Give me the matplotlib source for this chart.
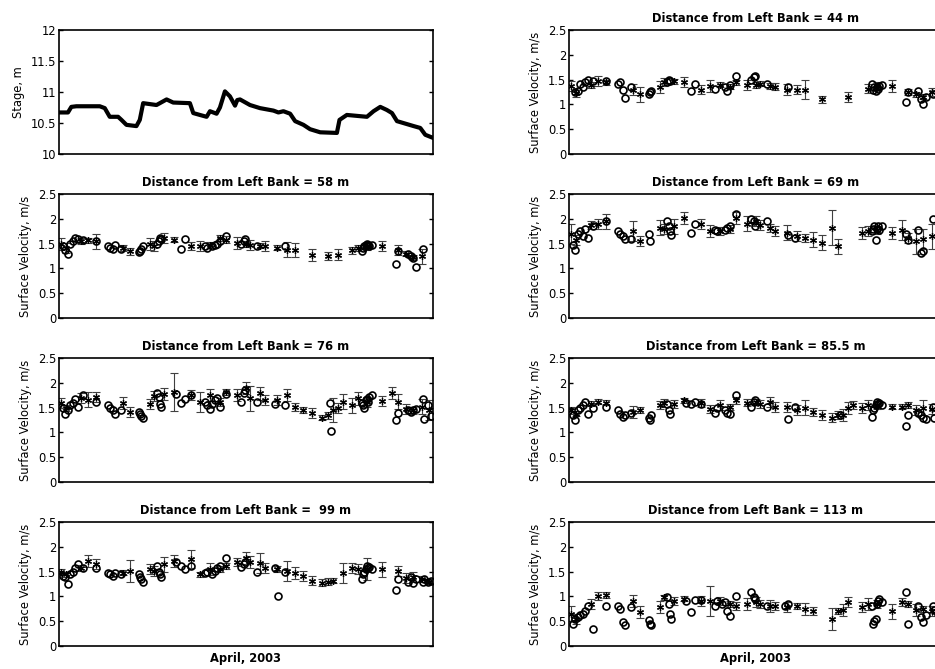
import numpy as np
import matplotlib
matplotlib.use("Agg")
import matplotlib.pyplot as plt
from matplotlib.ticker import FormatStrFormatter

nan = float("nan")

# river stage through April 2003 (day of month, metres)
stage_t = [0, 0.72, 0.99, 1.39, 3.27, 3.67, 4.07, 4.74, 5.01, 5.41,
           6.21, 6.48, 6.75, 7.82, 8.63, 9.16, 10.5, 10.77, 11.3, 11.84,
           12.11, 12.64, 12.91, 13.31, 13.71, 14.12, 14.3, 14.52, 15.32, 16.12,
           17.2, 17.6, 18.0, 18.54, 18.94, 19.61, 20.14, 20.95, 22.29, 22.5,
           23.09, 24.16, 24.7, 25.23, 25.77, 26.3, 26.71, 27.11, 27.78, 28.45,
           28.98, 29.38, 30]
stage_h = [10.67, 10.67, 10.76, 10.77, 10.77, 10.74, 10.60, 10.60, 10.55, 10.47,
           10.45, 10.55, 10.82, 10.79, 10.88, 10.83, 10.82, 10.66, 10.63, 10.60,
           10.69, 10.65, 10.75, 11.01, 10.93, 10.78, 10.87, 10.88, 10.79, 10.74,
           10.70, 10.67, 10.69, 10.65, 10.53, 10.47, 10.40, 10.35, 10.34, 10.55,
           10.63, 10.61, 10.60, 10.69, 10.76, 10.71, 10.66, 10.53, 10.49, 10.45,
           10.42, 10.31, 10.26]

# times of the averaged velocity estimates (plotted as * with error bars)
t_star = [0.2, 0.6, 1.8, 2.3, 3.0, 5.1, 5.7, 7.3, 7.6, 8.4,
          9.2, 10.6, 11.3, 12.1, 12.9, 13.4, 14.3, 15.0, 15.3, 16.1,
          16.5, 17.5, 18.3, 18.9, 19.6, 20.3, 21.1, 21.6, 22.0, 22.4,
          22.8, 23.5, 24.0, 24.7, 25.9, 26.7, 27.2, 27.8, 28.4, 29.1, 29.7]

# times of the individual measurements (open circles)
t_circ = [0.3, 0.5, 0.7, 0.9, 1.1, 1.3, 1.5, 1.9, 3.0, 3.9,
          4.1, 4.3, 4.5, 5.0, 6.4, 6.5, 6.6, 6.7, 7.9, 8.0,
          8.1, 8.2, 9.4, 9.8, 10.1, 10.6, 11.7, 11.9, 12.1, 12.3,
          12.5, 12.7, 12.9, 13.4, 14.6, 14.8, 14.9, 15.9, 17.3, 17.6,
          18.1, 21.7, 21.8, 24.3, 24.4, 24.5, 24.6, 24.7, 24.8, 24.9,
          25.1, 27.0, 27.2, 28.0, 28.2, 28.4, 28.6, 29.2, 29.3, 29.6, 29.8]

# ---- 44 m ----
v44 = [1.38, 1.22, 1.40, 1.48, 1.45, 1.30, 1.20, 1.35, 1.45, 1.47,
       1.45, 1.30, 1.38, 1.40, 1.36, 1.45, 1.40, 1.40, 1.42, 1.38,
       1.36, 1.30, 1.30, 1.30, nan, 1.10, nan, nan, nan, 1.15,
       nan, nan, 1.32, 1.38, 1.38, nan, 1.25, 1.20, 1.15, 1.25, 1.30]
e44 = [.10, .07, .06, .10, .05, .12, .15, .12, .08, .05,
       .10, .10, .12, .05, .05, .05, .10, .06, .05, .06,
       .07, .12, .10, .20, 0, .07, 0, 0, 0, .10,
       0, 0, .10, .08, .12, 0, .06, .06, .05, .08, .10]
c44 = [nan, 1.25, 1.28, 1.42, 1.35, 1.45, 1.50, 1.48, 1.48, 1.42,
       1.45, 1.30, 1.12, 1.35, 1.20, 1.25, 1.28, nan, 1.45, 1.50,
       1.48, nan, nan, 1.27, 1.42, nan, 1.32, nan, nan, nan,
       1.35, 1.28, 1.40, 1.58, 1.50, 1.55, 1.58, 1.42, nan, 1.35,
       nan, nan, nan, 1.42, 1.30, 1.35, 1.28, 1.35, 1.32, 1.38,
       1.40, 1.05, 1.25, 1.28, 1.10, 1.00, 1.15, 1.20, nan, nan, nan]

# ---- 58 m ----
v58 = [1.50, 1.42, 1.55, 1.57, 1.55, 1.42, 1.35, 1.50, 1.45, 1.62,
       1.58, 1.45, 1.45, 1.48, 1.62, 1.58, 1.52, 1.50, 1.48, 1.46,
       1.45, 1.42, 1.38, 1.37, nan, 1.27, nan, 1.25, nan, 1.28,
       nan, 1.37, 1.42, 1.45, 1.45, nan, 1.38, 1.30, 1.22, 1.24, nan]
e58 = [.12, .10, .06, .05, .15, .06, .07, .12, .10, .10,
       .05, .08, .10, .06, .06, .07, .12, .06, .10, .05,
       .10, .05, .15, .15, 0, .12, 0, .08, 0, .12,
       0, .07, .06, .07, .10, 0, .10, .05, .05, .15, 0]
c58 = [1.45, 1.38, 1.30, 1.50, 1.55, 1.62, 1.60, 1.58, 1.55, 1.45,
       1.42, 1.40, 1.48, 1.40, 1.33, 1.35, 1.40, 1.45, 1.50, 1.55,
       1.62, 1.60, nan, 1.40, 1.60, nan, 1.45, 1.42, nan, 1.45,
       1.47, 1.50, 1.55, 1.65, 1.50, 1.55, 1.60, 1.45, nan, nan,
       1.45, nan, nan, 1.35, 1.42, 1.45, 1.48, 1.50, 1.48, 1.45,
       1.47, 1.08, 1.35, 1.30, 1.25, 1.20, 1.03, 1.40, nan, nan, nan]

# ---- 69 m ----
v69 = [1.70, 1.58, 1.88, 1.90, 1.95, 1.75, 1.55, 1.82, 1.80, 1.85,
       2.02, 1.90, 1.75, 1.75, 1.80, 2.02, 1.90, 1.95, 1.88, 1.82,
       1.75, 1.72, 1.65, 1.62, 1.58, 1.52, 1.82, 1.45, nan, nan,
       nan, 1.72, 1.75, 1.78, 1.72, 1.78, 1.62, 1.55, 1.60, 1.65, nan]
e69 = [.20, .10, .08, .10, .15, .20, .10, .15, .10, .15,
       .12, .10, .12, .08, .08, .12, .15, .10, .10, .08,
       .10, .15, .10, .08, .15, .15, .35, .15, 0, 0,
       0, .12, .10, .08, .12, .20, .10, .25, .20, .25, 0]
c69 = [1.48, 1.38, 1.70, 1.75, 1.65, 1.80, 1.62, 1.85, 1.95, 1.75,
       1.70, 1.65, 1.60, 1.60, 1.70, 1.55, nan, nan, 1.95, 1.85,
       1.75, 1.68, nan, 1.72, 1.90, nan, 1.78, 1.75, nan, nan,
       1.78, 1.82, 1.85, 2.10, 2.00, 1.95, 1.85, 1.95, nan, 1.68,
       1.62, nan, nan, 1.75, 1.80, 1.85, 1.58, 1.80, 1.85, 1.78,
       1.85, 1.70, 1.58, 1.78, 1.32, 1.35, nan, 2.00, nan, nan, nan]

# ---- 76 m ----
v76 = [1.60, 1.49, 1.69, 1.66, 1.72, 1.59, 1.42, 1.57, 1.74, 1.78,
       1.82, 1.76, 1.62, 1.76, 1.62, 1.82, 1.76, 1.89, 1.69, 1.79,
       1.66, 1.66, 1.76, 1.51, 1.45, 1.39, 1.30, 1.35, 1.45, 1.49,
       1.62, 1.55, 1.69, 1.62, 1.64, 1.79, 1.62, 1.47, 1.45, 1.52, 1.45]
e76 = [.10, .06, .10, .15, .10, .12, .10, .10, .10, .12,
       .38, .10, .20, .12, .08, .06, .12, .12, .25, .13,
       .10, .10, .12, .08, .06, .10, .06, .07, .25, .10,
       .15, .15, .13, .10, .10, .12, .15, .10, .07, .15, .20]
c76 = [1.50, 1.38, 1.45, 1.55, 1.60, 1.68, 1.52, 1.75, 1.62, 1.55,
       1.50, 1.45, 1.38, 1.45, 1.42, 1.38, 1.33, 1.30, 1.80, 1.72,
       1.58, 1.52, 1.78, 1.60, 1.67, 1.75, 1.62, 1.55, 1.48, 1.58,
       1.65, 1.70, 1.52, 1.78, 1.62, 1.80, 1.85, 1.62, 1.58, nan,
       1.56, 1.60, 1.03, 1.60, 1.55, 1.50, 1.65, 1.68, 1.62, 1.72,
       1.75, 1.25, 1.40, 1.45, 1.42, 1.45, 1.48, 1.68, 1.28, 1.55, 1.33]

# ---- 85.5 m ----
v85 = [1.45, 1.38, 1.58, 1.62, 1.60, 1.42, 1.45, 1.55, 1.60, 1.58,
       1.65, 1.60, 1.48, 1.55, 1.52, 1.65, 1.60, 1.62, 1.58, 1.62,
       1.52, 1.52, 1.45, 1.50, 1.42, 1.35, 1.30, 1.35, 1.35, 1.50,
       1.55, 1.50, 1.55, 1.55, 1.52, 1.52, 1.55, 1.45, 1.50, 1.48, nan]
e85 = [.07, .05, .05, .05, .05, .12, .06, .08, .08, .08,
       .05, .08, .08, .10, .06, .07, .07, .05, .08, .10,
       .10, .10, .10, .15, .08, .10, .10, .08, .12, .12,
       .08, .10, .10, .08, .05, .05, .06, .10, .15, .10, 0]
c85 = [1.35, 1.25, 1.45, 1.50, 1.55, 1.62, 1.38, 1.50, 1.52, 1.45,
       1.38, 1.32, 1.35, 1.40, 1.30, 1.25, 1.35, nan, 1.58, 1.45,
       1.38, nan, 1.60, 1.58, 1.62, 1.58, 1.40, 1.50, nan, nan,
       1.45, 1.40, 1.38, 1.75, 1.52, 1.62, 1.65, 1.52, nan, 1.28,
       1.52, 1.35, nan, 1.32, 1.45, 1.50, 1.55, 1.62, 1.58, 1.60,
       1.55, 1.13, 1.35, 1.40, 1.35, 1.30, 1.28, 1.52, 1.30, nan, nan]

# ---- 99 m ----
v99 = [1.50, 1.45, 1.58, 1.72, 1.65, 1.48, 1.52, 1.55, 1.52, 1.65,
       1.72, 1.75, 1.45, 1.55, 1.55, 1.62, 1.70, 1.78, 1.70, 1.68,
       1.58, 1.55, 1.52, 1.48, 1.42, 1.32, 1.28, 1.30, 1.32, nan,
       1.47, 1.58, 1.55, 1.55, 1.55, nan, 1.52, 1.38, 1.40, 1.35, 1.30]
e99 = [.05, .05, .06, .12, .10, .05, .22, .10, .10, .15,
       .12, .18, .05, .12, .06, .06, .08, .12, .12, .20,
       .10, .06, .20, .12, .10, .10, .07, .08, .05, 0,
       .20, .10, .10, .22, .15, 0, .10, .10, .10, .06, .05]
c99 = [1.42, 1.40, 1.25, 1.45, 1.50, 1.58, 1.65, 1.58, 1.58, 1.48,
       1.45, 1.42, 1.48, 1.45, 1.45, 1.40, 1.35, 1.30, 1.62, 1.50,
       1.45, 1.40, 1.70, 1.62, 1.55, 1.62, 1.48, 1.50, nan, 1.45,
       1.52, 1.58, 1.62, 1.78, 1.60, 1.65, 1.70, 1.50, 1.58, 1.00,
       1.50, nan, nan, 1.35, 1.45, 1.50, 1.55, 1.62, 1.58, 1.60,
       1.55, 1.12, 1.35, 1.30, 1.40, 1.28, 1.35, 1.30, 1.35, 1.30, 1.32]

# ---- 113 m ----
v113 = [0.65, 0.55, 0.85, 1.00, 1.02, 0.90, 0.68, 0.78, 0.98, 0.90,
        0.95, 0.90, 0.90, 0.90, 0.85, 0.80, 0.85, 0.88, 0.85, 0.80,
        0.80, 0.78, 0.80, 0.75, 0.70, nan, 0.55, 0.70, 0.72, 0.88,
        nan, 0.78, 0.85, 0.85, 0.70, 0.88, 0.85, 0.72, 0.75, 0.70, nan]
e113 = [.15, .10, .10, .08, .06, .12, .12, .12, .05, .08,
        .05, .10, .30, .08, .06, .08, .12, .10, .08, .12,
        .08, .10, .06, .12, .08, 0, .22, .06, .12, .10,
        0, .10, .12, .08, .15, .08, .06, .12, .06, .10, 0]
c113 = [0.45, 0.55, 0.58, 0.62, 0.65, 0.70, 0.80, 0.35, 0.80, 0.80,
        0.75, 0.48, 0.42, 0.78, 0.52, 0.45, 0.42, nan, 0.98, 0.85,
        0.65, 0.55, 0.90, 0.68, 0.92, 0.92, 0.80, 0.90, nan, 0.85,
        0.88, 0.70, 0.60, 1.00, 1.08, 0.98, 0.95, 0.80, 0.80, 0.85,
        nan, nan, nan, 0.80, 0.45, 0.50, 0.55, 0.85, 0.90, 0.95,
        0.88, 1.08, 0.45, 0.80, 0.58, 0.48, 0.62, 0.80, 0.72, 0.65, nan]

plt.rcParams["font.family"] = ["DejaVu Sans"]
plt.rcParams["font.size"] = 8.3

W, H = 935, 669
fig = plt.figure(figsize=(W / 100, H / 100), dpi=100)

col_x = [59 / W, 569 / W]
row_bottom = [154, 318, 482, 646]
aw, ah = 374 / W, 124 / H


def make_axes(col, row):
    ax = fig.add_axes([col_x[col], 1 - row_bottom[row] / H, aw, ah])
    ax.set_xlim(0, 30)
    ax.set_xticks([])
    ax.yaxis.set_major_formatter(FormatStrFormatter("%g"))
    ax.tick_params(axis="y", direction="in", length=3, width=1,
                   right=True, pad=2, labelsize=8.3)
    for sp in ax.spines.values():
        sp.set_linewidth(1.2)
    return ax


def velocity_panel(col, row, dist, v, e, c, bottom=False):
    ax = make_axes(col, row)
    # thin asterisk markers for the averaged values
    ax.errorbar(t_star, v, yerr=e, fmt="none", ecolor="#404040",
                elinewidth=0.8, capsize=3, capthick=0.8)
    ax.plot(t_star, v, linestyle="none", marker=(6, 2, 0), ms=5,
            mec="k", mew=0.9)
    ax.plot(t_circ, c, "o", mfc="none", mec="k", ms=5, mew=1.2)
    ax.set_ylim(0, 2.5)
    ax.set_yticks([0, 0.5, 1, 1.5, 2, 2.5])
    ax.set_ylabel("Surface Velocity, m/s", labelpad=4)
    ax.set_title(f"Distance from Left Bank = {dist} m", fontsize=8.3,
                 fontweight="bold", pad=6)
    if bottom:
        ax.set_xlabel("April, 2003", fontweight="bold", labelpad=4)
    return ax


# stage record
ax0 = make_axes(0, 0)
ax0.plot(stage_t, stage_h, color="k", lw=3)
ax0.set_ylim(10, 12)
ax0.set_yticks([10, 10.5, 11, 11.5, 12])
ax0.set_ylabel("Stage, m", labelpad=4)

velocity_panel(0, 1, "58", v58, e58, c58)
velocity_panel(0, 2, "76", v76, e76, c76)
velocity_panel(0, 3, " 99", v99, e99, c99, bottom=True)
velocity_panel(1, 0, "44", v44, e44, c44)
velocity_panel(1, 1, "69", v69, e69, c69)
velocity_panel(1, 2, "85.5", v85, e85, c85)
velocity_panel(1, 3, "113", v113, e113, c113, bottom=True)

fig.savefig("out.png", dpi=100)
